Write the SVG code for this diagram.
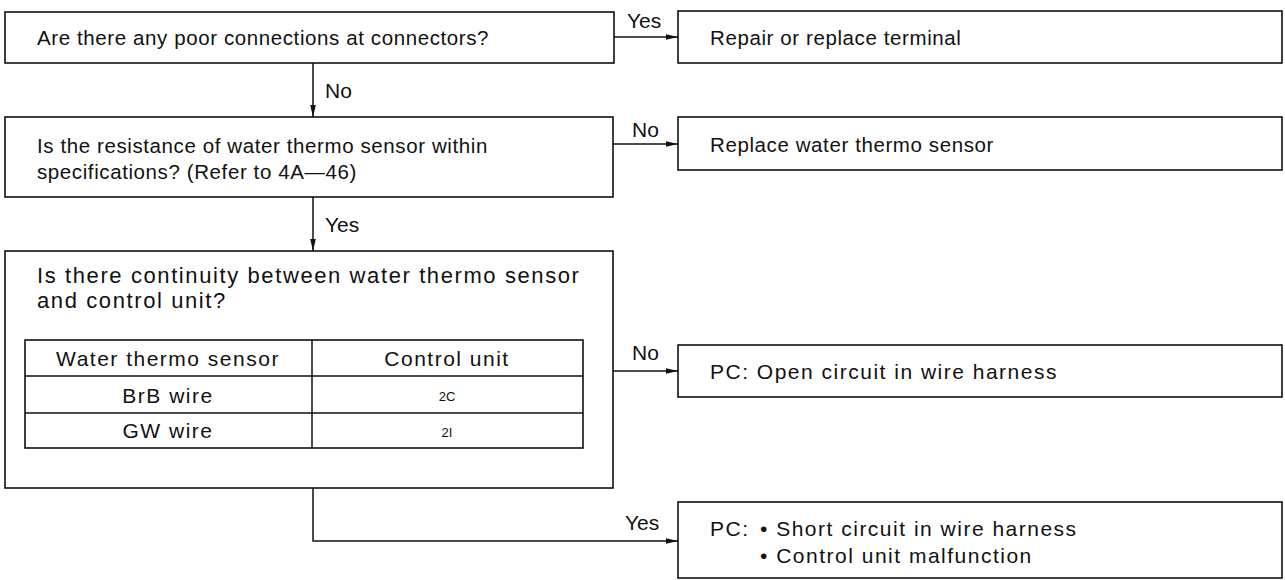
<svg xmlns="http://www.w3.org/2000/svg" width="1285" height="580" viewBox="0 0 1285 580">
<style>
.box{fill:#fff;stroke:#111;stroke-width:1.6}
.ln{fill:none;stroke:#111;stroke-width:1.5}
.t{font-family:"Liberation Sans",Arial,sans-serif;font-size:20.5px;letter-spacing:0.6px;fill:#111}
.b{font-size:22px;letter-spacing:1.6px}
.c{font-size:21px;letter-spacing:1.5px}
.lb{font-family:"Liberation Sans",Arial,sans-serif;font-size:21px;fill:#111}
.s{font-family:"Liberation Sans",Arial,sans-serif;font-size:13px;fill:#111}
.m{text-anchor:middle}
</style>
<defs>
<marker id="ah" markerWidth="12" markerHeight="8" refX="12" refY="4" orient="auto" markerUnits="userSpaceOnUse">
<path d="M0,1.2 L12,4 L0,6.8 Z" fill="#111"/>
</marker>
</defs>
<rect width="1285" height="580" fill="#fff"/>
<g id="connectors">
<path class="ln" d="M614,37 H678" marker-end="url(#ah)"/>
<path class="ln" d="M313,63 V117" marker-end="url(#ah)"/>
<path class="ln" d="M613,144 H678" marker-end="url(#ah)"/>
<path class="ln" d="M313,197 V251" marker-end="url(#ah)"/>
<path class="ln" d="M613,371 H678" marker-end="url(#ah)"/>
<path class="ln" d="M313,488 V541 H678" marker-end="url(#ah)"/>
<text class="lb" x="627" y="28">Yes</text>
<text class="lb" x="325" y="98">No</text>
<text class="lb" x="632" y="137">No</text>
<text class="lb" x="325" y="232">Yes</text>
<text class="lb" x="632" y="360">No</text>
<text class="lb" x="625" y="530">Yes</text>
</g>
<g id="n1">
<rect class="box" x="5" y="12" width="609" height="51"/>
<text class="t" x="37" y="45">Are there any poor connections at connectors?</text>
</g>
<g id="n2">
<rect class="box" x="678" y="11" width="604" height="52"/>
<text class="t" x="710" y="45">Repair or replace terminal</text>
</g>
<g id="n3">
<rect class="box" x="5" y="117" width="608" height="80"/>
<text class="t" x="37" y="153">Is the resistance of water thermo sensor within</text>
<text class="t" x="37" y="179">specifications? (Refer to 4A—46)</text>
</g>
<g id="n4">
<rect class="box" x="678" y="117" width="604" height="53"/>
<text class="t" x="710" y="152">Replace water thermo sensor</text>
</g>
<g id="n5">
<rect class="box" x="5" y="251" width="608" height="237"/>
<text class="t b" x="37" y="283">Is there continuity between water thermo sensor</text>
<text class="t b" x="37" y="308">and control unit?</text>
<rect class="box" x="25" y="340" width="558" height="108"/>
<path class="ln" d="M312,340 V448 M25,376 H583 M25,413 H583"/>
<text class="t c m" x="168" y="366">Water thermo sensor</text>
<text class="t c m" x="447" y="366">Control unit</text>
<text class="t c m" x="168" y="403">BrB wire</text>
<text class="s m" x="447" y="401">2C</text>
<text class="t c m" x="168" y="438">GW wire</text>
<text class="s m" x="447" y="437">2I</text>
</g>
<g id="n6">
<rect class="box" x="678" y="345" width="604" height="52"/>
<text class="t c" x="710" y="379">PC: Open circuit in wire harness</text>
</g>
<g id="n7">
<rect class="box" x="678" y="502" width="604" height="76"/>
<text class="t c" y="536"><tspan x="710">PC:</tspan><tspan x="760">• Short circuit in wire harness</tspan></text>
<text class="t c" x="760" y="563">• Control unit malfunction</text>
</g>
</svg>
